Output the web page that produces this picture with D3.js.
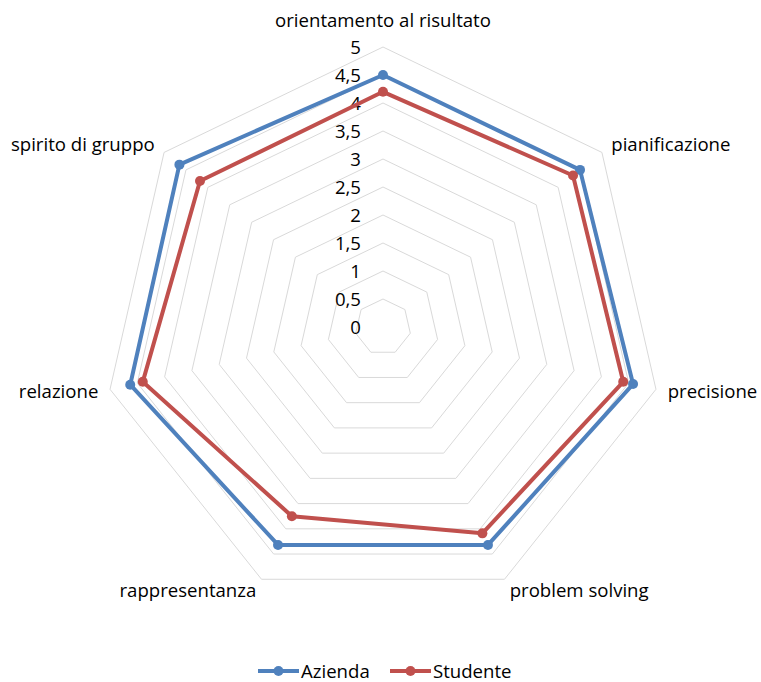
<html>
<meta charset="utf-8"></meta>
<script src="https://cdn.jsdelivr.net/npm/d3@7"></script>
<style>
body{margin:0;background:#fff;}
text{font-family:"Open Sans",sans-serif;fill:#000;}
</style>
<body>
<svg id="idSvg001" width="761" height="682"></svg>
<script type="text/javascript">
var categories = ["orientamento al risultato","pianificazione","precisione","problem solving","rappresentanza","relazione","spirito di gruppo"];
var azienda = [4.5, 4.5, 4.58, 4.32, 4.32, 4.63, 4.65];
var studente = [4.2, 4.34, 4.4, 4.09, 3.75, 4.4, 4.18];
var ticks = [0,0.5,1,1.5,2,2.5,3,3.5,4,4.5,5];
var seriesNames = ["Azienda","Studente"];
var colors = ["#4F81BD","#C0504D"];

function draw(){
	var svg = d3.select("#idSvg001");
	var cx = 383, cy = 327, R = 280;
	var fs = "18.6px";
	var r = d3.scaleLinear().domain([0,5]).range([0,R]);
	var ang = d3.scaleLinear().domain([0,categories.length]).range([0,2*Math.PI]);
	var g = svg.append("g").attr("transform","translate("+cx+","+cy+")");

	// grid rings
	var ring = d3.lineRadial().curve(d3.curveLinearClosed);
	ticks.filter(function(t){return t>0;}).forEach(function(t){
		g.append("path")
			.attr("d",ring(categories.map(function(c,i){return [ang(i),r(t)];})))
			.attr("fill","none").attr("stroke","#D9D9D9").attr("stroke-width",1);
	});

	// tick labels
	g.selectAll(".tick").data(ticks).enter().append("text")
		.attr("x",-22).attr("y",function(d){return -r(d);})
		.attr("dy","0.35em").attr("text-anchor","end")
		.style("font-size",fs)
		.text(function(d){return String(d).replace(".",",");});

	// category labels
	categories.forEach(function(c,i){
		var a = ang(i), s = Math.sin(a), k = -Math.cos(a);
		var t = g.append("text").style("font-size",fs).text(c);
		if(i==0){
			t.attr("x",0).attr("y",-R-20).attr("text-anchor","middle");
		}else{
			t.attr("x",(R+12)*s).attr("y",(R+12)*k).attr("dy","0.35em")
				.attr("text-anchor",s>0?"start":"end");
		}
	});

	// series
	var line = d3.lineRadial().curve(d3.curveLinearClosed);
	[azienda,studente].forEach(function(vals,si){
		var pts = vals.map(function(v,i){return [ang(i),r(v)];});
		g.append("path").attr("d",line(pts)).attr("fill","none")
			.attr("stroke",colors[si]).attr("stroke-width",4).attr("stroke-linejoin","round");
		g.selectAll(".p"+si).data(vals).enter().append("circle")
			.attr("cx",function(d,i){return r(d)*Math.sin(ang(i));})
			.attr("cy",function(d,i){return -r(d)*Math.cos(ang(i));})
			.attr("r",5).attr("fill",colors[si]);
	});

	// legend
	var lx = [258,390];
	seriesNames.forEach(function(n,i){
		var lg = svg.append("g").attr("transform","translate("+lx[i]+",671)");
		lg.append("line").attr("x1",0).attr("x2",41).attr("stroke",colors[i]).attr("stroke-width",4);
		lg.append("circle").attr("cx",20.5).attr("r",5).attr("fill",colors[i]);
		lg.append("text").attr("x",43).attr("dy","0.35em").style("font-size",fs).text(n);
	});
}
draw();
</script>
</body>
</html>
